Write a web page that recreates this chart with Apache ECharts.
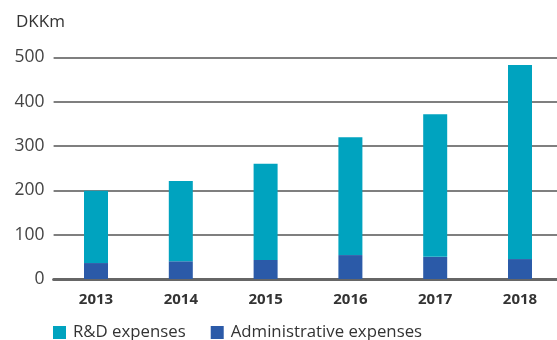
<!DOCTYPE html>
<html><head><meta charset="utf-8">
<script src="https://cdn.jsdelivr.net/npm/echarts@6/dist/echarts.min.js"></script>
<style>html,body{margin:0;padding:0;background:#fff}#c{width:557px;height:340px}</style>
</head><body><div id="c"></div>
<script>
const categories = ['2013','2014','2015','2016','2017','2018'];
const rdExpenses = [163, 181, 217, 266, 322, 438];
const adminExpenses = [36, 40, 43, 54, 50, 45];
const yTicks = [0, 100, 200, 300, 400, 500];
const unitLabel = 'DKKm';
const FONT = 'Open Sans';
const chart = echarts.init(document.getElementById('c'));
chart.setOption({
  animation: false,
  textStyle: { fontFamily: FONT },
  title: { text: unitLabel, left: 11, top: 9, padding: 5, textStyle: { fontFamily: FONT, fontSize: 17, fontWeight: 'normal', color: '#333' } },
  grid: { left: 53.6, right: -5.4, top: 57.5, bottom: 61, outerBoundsMode: 'none', containLabel: false },
  legend: {
    left: 48, top: 319, itemWidth: 13, itemHeight: 13, itemGap: 25, icon: 'rect',
    textStyle: { fontFamily: FONT, fontSize: 16.8, color: '#333', padding: [0,0,0,2] },
    data: ['R&D expenses', 'Administrative expenses']
  },
  xAxis: {
    type: 'category', data: categories,
    axisLine: { show: true, lineStyle: { color: '#666', width: 3 } },
    axisTick: { show: false },
    axisLabel: { fontFamily: FONT, fontSize: 15, fontWeight: 'bold', color: '#333', margin: 13 }
  },
  yAxis: {
    type: 'value', min: yTicks[0], max: yTicks[yTicks.length-1], interval: 100,
    axisLine: { show: false }, axisTick: { show: false },
    axisLabel: { fontFamily: FONT, fontSize: 17.5, color: '#444', margin: 9 },
    splitLine: { lineStyle: { color: '#555', width: 1.5 } }
  },
  series: [
    { name: 'Administrative expenses', type: 'bar', stack: 't', data: adminExpenses, barWidth: 24, itemStyle: { color: '#2b5aa8' } },
    { name: 'R&D expenses', type: 'bar', stack: 't', data: rdExpenses, barWidth: 24, itemStyle: { color: '#00a3bf' } }
  ]
});
</script></body></html>
